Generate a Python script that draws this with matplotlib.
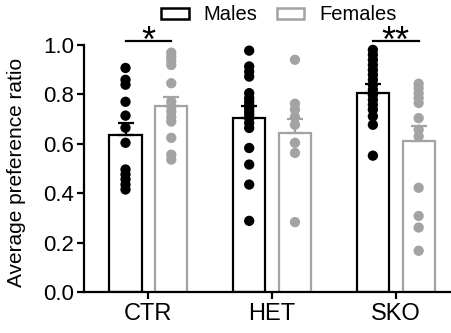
import matplotlib
matplotlib.use("Agg")
import matplotlib.pyplot as plt
import numpy as np
from matplotlib.patches import Patch

plt.rcParams['font.family'] = ['Liberation Sans', 'DejaVu Sans']

groups = ["CTR", "HET", "SKO"]
sexes = ["Males", "Females"]
means_m = [0.636, 0.704, 0.805]
means_f = [0.754, 0.644, 0.610]
sem_m = [0.050, 0.047, 0.036]
sem_f = [0.035, 0.056, 0.060]

dots_ctr_m = [0.907, 0.859, 0.839, 0.770, 0.714, 0.665, 0.604, 0.496, 0.476, 0.456, 0.435, 0.415]
dots_ctr_f = [0.969, 0.953, 0.937, 0.919, 0.845, 0.771, 0.751, 0.731, 0.708, 0.690, 0.624, 0.556, 0.536]
dots_het_m = [0.977, 0.913, 0.892, 0.872, 0.805, 0.785, 0.771, 0.758, 0.745, 0.731, 0.718,
              0.704, 0.684, 0.664, 0.583, 0.516, 0.435, 0.288]
dots_het_f = [0.940, 0.762, 0.738, 0.708, 0.677, 0.604, 0.563, 0.283]
dots_sko_m = [0.980, 0.960, 0.940, 0.919, 0.899, 0.879, 0.859, 0.839, 0.819, 0.798, 0.778,
              0.758, 0.738, 0.711, 0.677, 0.552]
dots_sko_f = [0.843, 0.825, 0.805, 0.785, 0.765, 0.704, 0.657, 0.630, 0.422, 0.308, 0.261, 0.167]

dots_m = [dots_ctr_m, dots_het_m, dots_sko_m]
dots_f = [dots_ctr_f, dots_het_f, dots_sko_f]
sig_pairs = [(0, "*"), (2, "**")]
sig_level = 1.016

black = "#000000"
gray = "#a3a3a3"

fig = plt.figure(figsize=(4.52, 3.33), dpi=100)
ax = fig.add_axes([0.186, 0.123, 0.810, 0.742])

x = np.arange(len(groups))
off = 0.185
w = 0.26

for i in range(len(groups)):
    for sign, means, sems, dots, col in [(-1, means_m, sem_m, dots_m, black),
                                          (1, means_f, sem_f, dots_f, gray)]:
        xc = x[i] + sign * off
        ax.bar(xc, means[i], width=w, facecolor="white", edgecolor=col, linewidth=1.6, zorder=1)
        ax.scatter([xc] * len(dots[i]), dots[i], s=55, color=col, edgecolor="none", zorder=2, clip_on=False)
        ax.errorbar(xc, means[i], yerr=[[0], [sems[i]]], color=col, elinewidth=1.6,
                    capsize=6, capthick=1.6, zorder=3, fmt="none")

for gi, label in sig_pairs:
    x0 = x[gi] - off
    x1 = x[gi] + off
    ax.plot([x0, x1], [sig_level, sig_level], color=black, lw=1.6, clip_on=False)
    ax.text(x[gi], 0.972, label, ha="center", va="baseline", fontsize=26, clip_on=False)

ax.set_xlim(-0.52, 2.44)
ax.set_ylim(0, 1.0)
ax.set_yticks([0.0, 0.2, 0.4, 0.6, 0.8, 1.0])
ax.set_yticklabels(["0.0", "0.2", "0.4", "0.6", "0.8", "1.0"])
ax.set_xticks(x)
ax.set_xticklabels(groups)
ax.tick_params(axis="y", labelsize=16, width=1.6, length=5, pad=2, direction="out", colors=black)
ax.tick_params(axis="x", labelsize=17, width=1.6, length=5, pad=3, direction="out", colors=black)
ax.set_ylabel("Average preference ratio", fontsize=15)
ax.yaxis.set_label_coords(-0.158, 0.486)
for s in ["top", "right"]:
    ax.spines[s].set_visible(False)
for s in ["left", "bottom"]:
    ax.spines[s].set_linewidth(1.6)

handles = [Patch(facecolor="white", edgecolor=black, linewidth=1.8, label=sexes[0]),
           Patch(facecolor="white", edgecolor=gray, linewidth=1.8, label=sexes[1])]
fig.legend(handles=handles, loc="center", bbox_to_anchor=(0.617, 0.955), ncol=2, frameon=False,
           fontsize=14.5, handlelength=1.35, handleheight=0.5, columnspacing=0.95, handletextpad=0.75,
           borderpad=0.1)

fig.savefig("out.png", dpi=100)
